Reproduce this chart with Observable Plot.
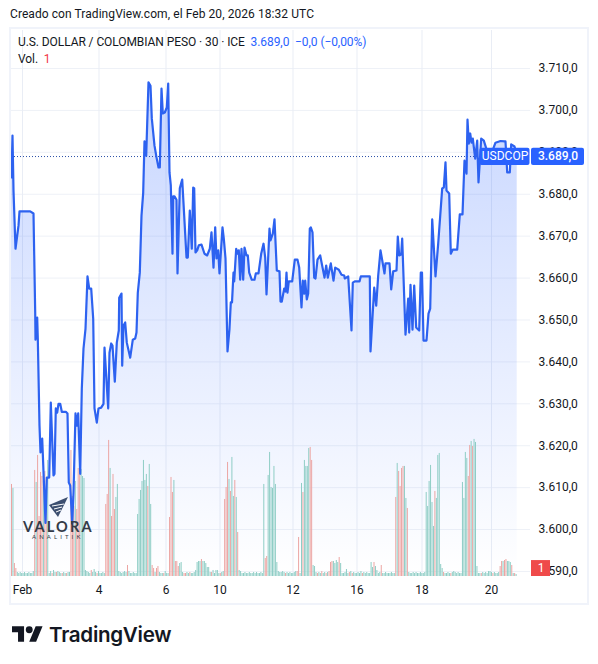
<!DOCTYPE html>
<html lang="es">
<head>
<meta charset="utf-8">
<script src="https://cdn.jsdelivr.net/npm/d3@7"></script>
<script src="https://cdn.jsdelivr.net/npm/@observablehq/plot@0.6"></script>
<style>
  html,body{margin:0;padding:0;background:#fff;width:598px;height:664px;overflow:hidden;position:relative;font-family:Roboto,"Noto Sans",sans-serif;color:#131722}
  #title{height:28px;line-height:29px;padding-left:10px;font-size:12px;letter-spacing:.07px;box-sizing:border-box}
  #chart svg{display:block;overflow:visible}
  #frame{position:absolute;left:9px;top:27px;width:576px;height:574px;border:2px solid #f0f3fa;pointer-events:none}
  .legend{position:absolute;font-size:12px;line-height:14px;white-space:nowrap;letter-spacing:-.08px}
  .blue{color:#2962ff}.red{color:#f23645}
  #footer{position:absolute;left:12px;top:620px;display:flex;align-items:center;gap:6px;height:28px;font-family:Inter,Roboto,sans-serif;font-weight:600;font-size:20.6px;letter-spacing:-.3px;color:#131722}
  #wm{position:absolute;left:23px;top:496px;width:70px;height:46px;color:#333a47;text-align:center}
  #wm .a{position:absolute;left:0;top:25px;font:700 14.5px/12px Lato,Roboto,sans-serif;letter-spacing:2.2px;white-space:nowrap}
  #wm .b{position:absolute;left:9px;top:38px;font:400 6px/6px Lato,Roboto,sans-serif;letter-spacing:3.1px;white-space:nowrap}
  #wm svg{position:absolute;left:25px;top:0}
</style>
</head>
<body>
<div id="title">Creado con TradingView.com, el Feb 20, 2026 18:32 UTC</div>
<div id="chart"></div>
<div id="frame"></div>
<div class="legend" style="left:18px;top:35px">U.S. DOLLAR / COLOMBIAN PESO · 30 · ICE &nbsp;<span class="blue">3.689,0 &nbsp;−0,0 (−0,00%)</span></div>
<div class="legend" style="left:18px;top:52px">Vol. &nbsp;<span class="red">1</span></div>
<div id="wm">
  <svg width="22" height="22" viewBox="0 0 22 22"><path d="M20 1 1 9l9 12z" fill="#3d4f70"/><path d="M4 10l12-2M6 13l8-2M8 16l5-2" stroke="#fff" stroke-width="1" fill="none"/></svg>
  <div class="a">VALORA</div><div class="b">ANALITIK</div>
</div>
<div id="footer">
  <svg width="31" height="16" viewBox="0 4 36 18"><path d="M14 22H7V11H0V4h14v18zM28 22h-8l7.5-18h8L28 22z" fill="#131722"/><circle cx="20" cy="8" r="4" fill="#131722"/></svg>
  <span>TradingView</span>
</div>
<script>
// Price line: position on the session timeline, and close price
const priceTime = [0,1,2,4,7,8,18.7,22,23.7,24,25.7,26.3,28,29,30.7,31.3,34,35.3,37.7,39.3,42,43,44.3,45.7,47,48.7,50.3,54.3,56,57.3,58.7,60.7,62,64,65.3,66.7,68.7,70.3,72,74,76,77.7,79.7,81.7,83,85.3,87,89.7,92,93,96.7,98,99.7,101,103.3,105.3,107.3,107.7,110,110.7,112,113.7,115.3,118.7,121.3,123.7,125,126.3,128.3,130,131.7,133,134.7,137,139,140.3,143,145,147,148.3,150,151.3,153.3,155.3,156.7,158,159.3,161,161.7,163,165,166,168.3,170.7,175,176.3,178.3,180.3,181.7,182.7,184,185.7,187.3,190,193,195.7,198.3,200,202,203.7,205,206.7,208,211,212.3,214,216,218,219.3,220.5,222,222.7,224.7,226.3,227.3,228.7,230,231.7,233,235,236.3,237.7,240.3,243,244.3,247,249.7,252,253.7,255,258,259,261.3,263,265.3,268,269,270.3,272.7,274,275,276,277.3,280.7,283.3,286,287.7,290,291.3,292.7,293.7,295.3,296.7,298.3,299.3,301,302.7,304,306,308.7,313,314.7,316.3,319.3,322,323.7,327.3,330,332.7,333.3,336.7,340,341.3,343.3,348,349.3,358.3,359,362.7,364.7,366.7,369,373,374,378,379.7,381.7,385,386.3,387.7,389.7,390.7,394,396.7,397.7,399,401,402.7,404.7,407.7,409.3,410.5,412,415,417,418.7,420.7,424,426.7,430.7,432.3,434,435,437.7,439.3,441.3,445.7,448.3,451,453,454,455,456,457.3,458.7,460,461.3,463.7,465.7,467,469.7,472.3,477,481,484,489,493,494,495.7,498.3,499.7,503,505.7];
const priceClose = [3684,3694,3680.9,3667,3672.5,3675.9,3675.9,3675.4,3651.8,3645.3,3650.6,3645.6,3624.8,3618.4,3621.7,3618.1,3601.6,3612.4,3612.4,3630.3,3612.9,3613.3,3628.9,3627.9,3630,3630,3628.1,3628.1,3627.7,3611.2,3610.5,3601.4,3608.8,3627.7,3624.8,3627.7,3613.3,3633.6,3643.2,3647.9,3660.4,3657.5,3657.5,3650.3,3628.9,3625.5,3628.9,3629.1,3630,3643.4,3628.9,3642.2,3644.4,3643.9,3635.3,3644.6,3647.5,3655.3,3656.3,3639.1,3648.7,3649.4,3644.6,3641,3645.3,3645.6,3647,3656.5,3661.3,3674.9,3680.4,3692.6,3689.2,3706.7,3705.9,3698.1,3691.6,3688.8,3686.4,3686.4,3705.2,3699.3,3699.5,3700.7,3706.4,3685.2,3682.1,3665.8,3679.5,3679.5,3678.7,3661.1,3681.4,3683.5,3664.9,3664.9,3676.1,3667,3681.6,3681.4,3666.1,3666.6,3667.8,3668,3665.8,3665.4,3667,3670.9,3662.5,3672.1,3664.7,3666.6,3661.1,3672.1,3669.4,3664.7,3642.5,3647.9,3654.2,3654.2,3661.3,3659.2,3667,3665.8,3666.6,3659.6,3667,3659.6,3667.3,3665.4,3665.4,3661.3,3659.6,3659.6,3661.1,3661.1,3665.8,3668.2,3664.9,3656.1,3671.8,3669,3670.6,3674,3661.8,3661.6,3654.4,3654.4,3657.5,3656.8,3661.3,3656.5,3659.2,3659.2,3664.4,3664.4,3662.5,3653,3659.4,3656.3,3659.4,3654.9,3656.3,3671.8,3672.1,3670.9,3660.1,3659.9,3664.4,3665.4,3660.1,3663,3660.1,3663.5,3659.4,3662.5,3662,3660.8,3660.6,3659.9,3660.4,3647.5,3658.9,3659.2,3659.2,3660.4,3660.4,3642.5,3657.7,3653.4,3660.6,3666.6,3661.1,3663.5,3663.5,3657.3,3661.6,3661.8,3669.9,3665.4,3665.6,3669.4,3646.5,3655.1,3647,3658.4,3647.7,3658.2,3648.2,3647.5,3661.3,3661.3,3645.1,3645.1,3651.5,3652.7,3674,3660.4,3668.2,3681.4,3681.6,3687.6,3680.9,3680.2,3665.8,3666.8,3666.8,3675.2,3675.2,3688,3686.6,3684.9,3697.8,3692.1,3694.5,3692.3,3693.3,3688.5,3692.8,3682.8,3693.3,3692.8,3689.2,3690.4,3692.3,3692.7,3692.6,3692.6,3685.2,3685.2,3691.9,3691.4,3689];

// Volume per 30-minute bar (relative units); negative = down bar, positive = up bar
const volumeByBar = [
-92,88,-13,-8,4,3,4,3,3,4,3,3,4,3,3,5,
-106,94,-121,-60,-104,-100,95,-105,-85,116,
3,5,-3,6,4,-4,5,4,3,-3,4,3,-3,4,4,
-126,-80,-70,95,-67,-108,-113,107,100,98,
6,5,4,3,-6,4,7,4,-3,5,3,3,4,3,
-72,-82,-136,108,-60,-102,-67,79,92,
5,4,3,4,5,4,-11,5,3,3,4,3,3,
62,77,86,95,116,96,102,-90,112,72,
-11,-8,4,-8,-10,4,3,3,-3,5,3,3,
-59,-99,-84,96,
-15,-15,-10,13,14,
4,-3,-3,4,3,-4,3,3,
4,6,14,15,15,-17,15,15,13,9,9,4,-4,6,3,6,6,3,-3,4,5,
-77,-89,-114,97,-85,119,80,-96,79,-44,
6,5,3,3,4,3,3,4,3,3,4,3,4,3,3,4,3,
92,-18,-20,101,124,89,88,110,92,14,
5,4,4,5,4,-3,4,3,4,3,3,4,5,
-5,-39,3,93,-84,116,110,110,128,-129,-116,11,10,
4,-3,4,3,-5,3,4,-3,4,-5,
-14,-15,15,13,16,14,-19,13,
3,3,4,7,3,-4,5,-3,4,3,3,4,3,5,-3,4,3,4,3,3,
14,9,-14,10,6,3,4,-11,
3,3,4,3,3,3,4,3,3,
-79,113,-105,-90,-108,-110,110,78,-68,
4,3,3,4,3,4,3,3,4,3,3,4,
84,70,95,111,74,50,-85,78,121,123,12,8,-4,
3,3,4,3,-3,4,5,4,3,4,3,3,
94,78,124,118,-100,-131,135,-130,137,134,10,
3,3,-3,4,3,4,3,5,5,4,-3,4,3,3,4,
-10,-15,15,-16,-17,15,15,14,-11,3,-3,2
];
const volumeBarStep = 1.45;     // timeline units per bar
const volumeToPrice = 0.2387;   // volume pane height, as a share of the price axis
const paneBasePrice = 3588.8;

const priceTicks = [3710,3700,3690,3680,3670,3660,3650,3640,3630,3620,3610,3600,3590];
const dateTicks = [11,87.5,154.5,208.5,281.5,345.5,410.5,480];
const dateLabels = ["Feb","4","6","10","12","16","18","20"];
const lastPrice = 3689;
const lastVolume = "1";
const symbol = "USDCOP";

const priceData = priceTime.map((t,i)=>({t,close:priceClose[i]}));
const bars = volumeByBar.map((v,i)=>({t:i*volumeBarStep,v:Math.abs(v),down:v<0}));
const es = d3.formatLocale({decimal:",",thousands:".",grouping:[3]});
const fmt = es.format(",.1f");
const dateLabel = new Map(dateTicks.map((d,i)=>[d,dateLabels[i]]));

const gradient = () => {
  const defs = d3.create("svg:defs");
  const g = defs.append("linearGradient").attr("id","priceFill").attr("x1",0).attr("x2",0).attr("y1",0).attr("y2",1);
  g.append("stop").attr("offset","0%").attr("stop-color","#2962ff").attr("stop-opacity",.26);
  g.append("stop").attr("offset","100%").attr("stop-color","#2962ff").attr("stop-opacity",.0);
  return defs.node();
};

const chart = Plot.plot({
  width:598, height:578,
  marginLeft:11, marginRight:81, marginTop:2, marginBottom:30,
  style:{fontFamily:"Roboto,'Noto Sans',sans-serif",fontSize:"12px",color:"#131722",background:"transparent"},
  x:{domain:[0,506],axis:null},
  y:{domain:[paneBasePrice,3719.07],axis:null},
  marks:[
    gradient,
    Plot.ruleY(priceTicks,{x1:-2,x2:519,stroke:"#eef1f7",strokeWidth:1}),
    Plot.ruleX(dateTicks,{stroke:"#e9edf5",strokeWidth:1}),
    Plot.areaY(priceData,{x:"t",y1:paneBasePrice,y2:"close",fill:"url(#priceFill)"}),
    Plot.ruleX(bars,{x:"t",y1:paneBasePrice,y2:d=>paneBasePrice+d.v*volumeToPrice,
      stroke:d=>d.down?"#eca5a3":"#8ecdc5",strokeWidth:1}),
    Plot.ruleY([lastPrice],{x1:0,x2:469,stroke:"#2a4fa8",strokeWidth:1,strokeDasharray:"1,2"}),
    Plot.line(priceData,{x:"t",y:"close",stroke:"#2d62f0",strokeWidth:2.2,curve:"linear",strokeLinejoin:"round"}),
    Plot.axisX(dateTicks,{anchor:"bottom",label:null,tickSize:0,tickPadding:9,tickFormat:d=>dateLabel.get(d),fontSize:12,color:"#131722"}),
    Plot.axisY(priceTicks,{anchor:"right",label:null,tickSize:0,tickPadding:21,tickFormat:fmt,fontSize:12}),
    Plot.rect([0],{x1:468.5,x2:518.5,y1:3686.85,y2:3690.95,fill:"#2962ff",rx:2}),
    Plot.rect([0],{x1:520,x2:573,y1:3686.85,y2:3690.95,fill:"#2962ff",rx:2}),
    Plot.text([symbol],{x:493.5,y:lastPrice,text:d=>d,fill:"#fff",fontSize:12}),
    Plot.text([lastPrice],{x:546.5,y:lastPrice,text:d=>fmt(d),fill:"#fff",fontSize:12,fontWeight:500}),
    Plot.rect([0],{x1:520,x2:539,y1:paneBasePrice,y2:3592.6,fill:"#ef4a4a"}),
    Plot.text([lastVolume],{x:529.5,y:3590.7,text:d=>d,fill:"#fff",fontSize:12})
  ]
});
document.getElementById("chart").append(chart);
</script>
</body>
</html>
